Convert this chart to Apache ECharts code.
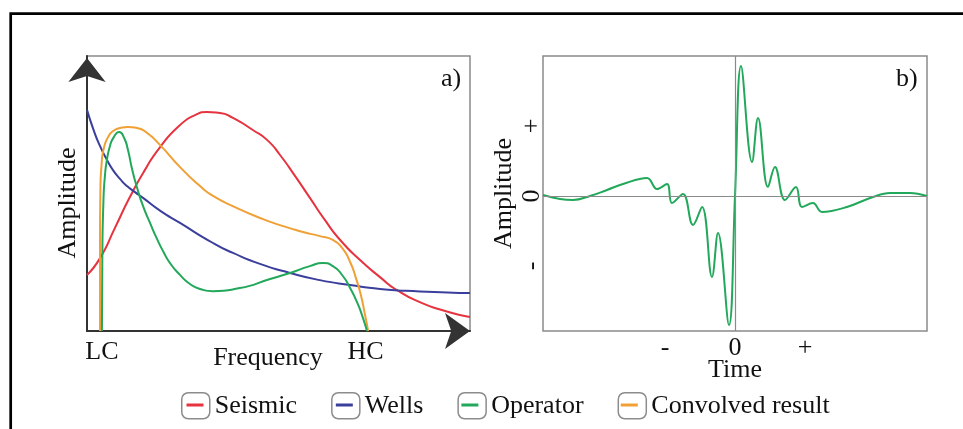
<!DOCTYPE html>
<html><head><meta charset="utf-8">
<script src="https://cdn.jsdelivr.net/npm/echarts@6/dist/echarts.min.js"></script>
<style>html,body{margin:0;padding:0;background:#fff}#c{width:963px;height:429px}</style>
</head><body><div id="c"></div>
<script>
// ---- data ----
const legendNames = ['Seismic', 'Wells', 'Operator', 'Convolved result'];
const freqTickValues = [3.9, 72.7];
const freqTickLabels = ['LC', 'HC'];
const timeTickValues = [-1, 0, 1];
const timeTickLabels = ['-', '0', '+'];
const ampTickValues = [-1, 0, 1];
const ampTickLabels = ['-', '0', '+'];

// panel a: [frequency, amplitude]
const seismic = [[0,20.4],[3.4,26.5],[7.3,37.5],[11.2,48.7],[15.1,58.5],[19.1,66.9],[24.3,74.9],[28.2,78.5],[31.3,79.6],[34.7,79.3],[38.1,77.5],[43.3,73.1],[47,69.5],[50.4,64.0],[54.3,56.4],[58.2,48.4],[62.1,40.4],[66.1,33.1],[71.3,25.8],[76.5,19.6],[80.9,14.9],[86.9,10.5],[93.5,7.3],[100,5.1]];
const wells = [[0,80.4],[1.83,72.7],[3.39,67.3],[5.22,62.2],[6.79,58.5],[8.62,55.3],[10.44,52.7],[12.53,50.5],[14.62,48.4],[19.06,43.8],[24.28,39.3],[32.9,32.0],[38.12,28.4],[45.17,24.4],[53,21.1],[60.8,18.5],[68.7,16.7],[76.5,15.3],[86.9,14.4],[100,13.8]];
const operator = [[3.9,0],[4.0,25.8],[4.3,47.6],[4.7,56.7],[5.2,62.2],[6.0,67.3],[7.0,70.5],[8.4,72.4],[9.7,70.2],[10.7,65.8],[11.7,59.3],[13.1,52.0],[14.62,45.5],[16.45,39.3],[18.28,33.5],[19.84,29.1],[21.67,24.7],[24.28,20.4],[26.89,17.1],[29.5,15.3],[32.9,14.5],[39.9,15.6],[47.8,18.9],[53,21.1],[58.2,23.6],[61.6,24.7],[64.2,23.6],[66.8,20.0],[68.7,15.6],[70.5,10.5],[71.8,5.8],[73.1,0]];
const convolved = [[3.4,0],[3.4,29.5],[3.5,51.3],[3.8,60.4],[4.4,66.5],[5.5,70.5],[6.8,72.7],[8.6,73.8],[10.7,74.2],[13.1,73.8],[15.7,72.0],[19.1,67.6],[24.3,59.6],[29.5,52.7],[32.9,49.1],[39.2,44.7],[45.2,41.1],[50.4,38.5],[56.4,36.0],[60.8,34.5],[64.2,33.1],[66.6,30.2],[68.7,25.1],[70.2,19.3],[71.5,13.1],[72.6,5.8],[73.4,0]];

// panel b: [time, amplitude]
const wavelet = [[-2.743,0.014],[-2.5,-0.043],[-2.314,-0.057],[-2.071,0],[-1.829,0.086],[-1.6,0.171],[-1.257,0.257],[-1.114,0.1],[-0.971,0.171],[-0.9,-0.1],[-0.743,0.029],[-0.6,-0.414],[-0.471,-0.157],[-0.329,-1.157],[-0.243,-0.529],[-0.086,-1.843],[0,0],[0.086,1.857],[0.243,0.486],[0.329,1.114],[0.471,0.129],[0.571,0.414],[0.714,-0.057],[0.871,0.129],[0.957,-0.157],[1.114,-0.1],[1.243,-0.229],[1.6,-0.157],[1.971,-0.014],[2.214,0.043],[2.5,0.043],[2.743,0]];

// ---- styles ----
const FONT = "'Liberation Serif','Times New Roman',serif";
const FS = 26;
const colors = {Seismic:'#e5333f', Wells:'#3b3f9c', Operator:'#22a85a', 'Convolved result':'#f0a035'};

function pick(values, labels) {
  return function (v) {
    let best = -1, bd = 1e9;
    values.forEach((x, i) => { const d = Math.abs(x - v); if (d < bd) { bd = d; best = i; } });
    return bd < 0.05 ? labels[best] : '';
  };
}

const chart = echarts.init(document.getElementById('c'), null, {renderer: 'canvas'});
const txt = {fontFamily: FONT, fontSize: FS, color: '#111'};

function lineSeries(name, data, xi, yi) {
  return {
    name: name, type: 'line', xAxisIndex: xi, yAxisIndex: yi, data: data,
    smooth: 0.6, showSymbol: false, symbol: 'none',
    lineStyle: {color: colors[name] || colors.Operator, width: 2},
    itemStyle: {color: colors[name] || colors.Operator},
    animation: false
  };
}

const option = {
  animation: false,
  backgroundColor: '#fff',
  grid: [
    {left: 87, top: 56, width: 383, height: 275, show: true, borderColor: '#8a8a8a', borderWidth: 1.5, backgroundColor: 'transparent'},
    {left: 543, top: 56, width: 384, height: 275, show: true, borderColor: '#8a8a8a', borderWidth: 1.5, backgroundColor: 'transparent'}
  ],
  xAxis: [
    {type: 'value', gridIndex: 0, min: 0, max: 100,
     axisLine: {show: true, onZero: false, lineStyle: {color: '#333', width: 2}, symbol: ['none', 'arrow'], symbolSize: [27, 25], symbolOffset: [0, 0]},
     axisTick: {show: false}, splitLine: {show: false},
     axisLabel: {customValues: freqTickValues, formatter: pick(freqTickValues, freqTickLabels), margin: 8, ...txt},
     name: 'Frequency', nameLocation: 'middle', nameGap: 14, nameMoveOverlap: false,
     nameTextStyle: {...txt, padding: [0, 21, 0, 0]}},
    {type: 'value', gridIndex: 1, min: -2.743, max: 2.743,
     axisLine: {show: false}, axisTick: {show: false}, splitLine: {show: false},
     axisLabel: {customValues: timeTickValues, formatter: pick(timeTickValues, timeTickLabels), margin: 4, ...txt},
     name: 'Time', nameLocation: 'middle', nameGap: 26, nameMoveOverlap: false, nameTextStyle: {...txt}}
  ],
  yAxis: [
    {type: 'value', gridIndex: 0, min: 0, max: 100,
     axisLine: {show: true, onZero: false, lineStyle: {color: '#333', width: 2}, symbol: ['none', 'arrow'], symbolSize: [28, 24], symbolOffset: [0, -2]},
     axisTick: {show: false}, splitLine: {show: false}, axisLabel: {show: false},
     name: 'Amplitude', nameLocation: 'middle', nameGap: 6, nameMoveOverlap: false,
     nameTextStyle: {...txt, padding: [0, 19, 0, 0]}},
    {type: 'value', gridIndex: 1, min: -1.929, max: 2.0,
     axisLine: {show: false}, axisTick: {show: false}, splitLine: {show: false},
     axisLabel: {customValues: ampTickValues, formatter: pick(ampTickValues, ampTickLabels), rotate: 90, margin: -2, ...txt},
     name: 'Amplitude', nameLocation: 'middle', nameGap: 26, nameMoveOverlap: false, nameTextStyle: {...txt}}
  ],
  legend: [
    {data: legendNames, left: 181, top: 392, padding: 0, itemGap: 34, itemWidth: 28, itemHeight: 26,
     icon: 'roundRect', selectedMode: false,
     itemStyle: {color: '#fff', borderColor: '#8c8c8c', borderWidth: 1.5},
     textStyle: {...txt}},
    {data: legendNames, left: 186.5, top: 392, padding: 0, itemGap: 45, itemWidth: 17, itemHeight: 3,
     icon: 'rect', selectedMode: false, z: 10,
     textStyle: {...txt, color: 'rgba(0,0,0,0)'}}
  ],
  graphic: [
    {type: 'polyline', shape: {points: [[10.7, 429], [10.7, 13.7], [963, 13.7]]}, style: {stroke: '#000', lineWidth: 2.7, fill: null}, z: 100},
    {type: 'text', left: 441, top: 66, style: {text: 'a)', font: FS + 'px ' + FONT, fill: '#111'}, z: 100},
    {type: 'text', left: 896, top: 66, style: {text: 'b)', font: FS + 'px ' + FONT, fill: '#111'}, z: 100}
  ],
  series: [
    lineSeries('Seismic', seismic, 0, 0),
    lineSeries('Wells', wells, 0, 0),
    lineSeries('Convolved result', convolved, 0, 0),
    lineSeries('Operator', operator, 0, 0),
    Object.assign(lineSeries('Operator wavelet', wavelet, 1, 1), {
      smooth: 0.4,
      markLine: {silent: true, symbol: ['none', 'none'], label: {show: false},
        lineStyle: {color: '#8a8a8a', width: 1.2, type: 'solid'},
        data: [{yAxis: 0}, {xAxis: 0}], animation: false}
    })
  ]
};
chart.setOption(option);
</script></body></html>
